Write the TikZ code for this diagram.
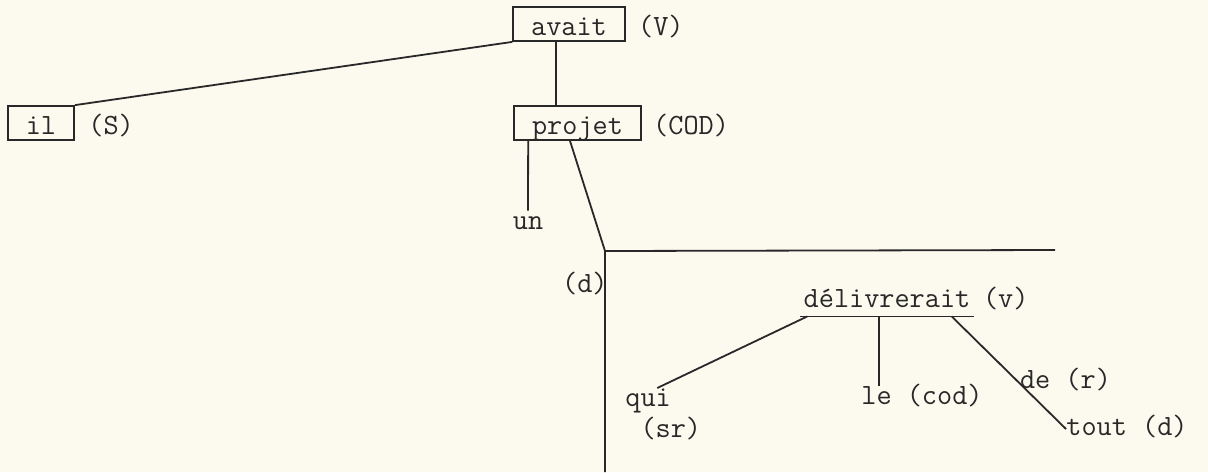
\documentclass[tikz,border=0pt]{standalone}
\usepackage{tikz}
\usetikzlibrary{calc}
\usetikzlibrary{positioning}
\definecolor{paper}{RGB}{252,250,239}
\definecolor{ink}{RGB}{40,40,40}

\begin{document}
\begin{tikzpicture}[
        x=0.5pt, y=-0.5pt,
        tt/.style={font=\ttfamily\fontsize{14.7}{15.5}\selectfont, text=ink},
        word/.style={tt, draw=ink, line width=0.9pt, inner xsep=9pt, inner ysep=2pt, text height=12pt, text depth=1pt},
        lbl/.style={tt, inner sep=0, text height=9pt, text depth=3pt},
        edge/.style={draw=ink, line width=0.9pt}
    ]
        \fill[paper] (0,0) rectangle (1208,472);
        \useasboundingbox (0,0) rectangle (1208,472);

        % 方框:名称/位置
        \node[word] (avait) at (569,24) {avait};
        \node[word] (projet) at (577.5,123) {projet};
        \node[word] (il) at (41,123) {il};
        \node[lbl, base right=6pt of avait] (V) {(V)};
        \node[lbl, base right=5.5pt of projet] (COD) {(COD)};
        \node[lbl, base right=6.5pt of il] (S) {(S)};

        % 从句
        \node[lbl] (un) at (528,223) {un};
        \coordinate (rel) at (605,251);
        \coordinate (relend) at (1055,250);
        \coordinate (relbot) at (605,472);
        \node[lbl, anchor=east] (d) at (608,286) {(d)};

        \node[lbl, inner xsep=1.5pt, text depth=2pt, inner ysep=2.5pt, anchor=base] (deliv) at (887,307) {délivrerait};
        \node[lbl, base right=4.5pt of deliv] (v) {(v)};
        \node[tt, inner sep=0, align=left, anchor=north west] (qui) at (625,388) {qui\\\mbox{\ }(sr)};
        \node[lbl, anchor=base west] (le) at (861,404) {le (cod)};
        \node[lbl, anchor=west] (tout) at (1066,429) {tout (d)};

        % 连线
        \draw[edge] (il.north east) -- (avait.south west);
        \draw[edge] ([xshift=-6.5pt]avait.south) -- ([xshift=-6.5pt]avait.south |- projet.north);
        \draw[edge] ([xshift=7.5pt]projet.south west) -- (un.north);
        \draw[edge] ([xshift=-3.75pt]projet.south) -- (rel);
        \draw[edge] (relbot) -- (rel) -- (relend);

        % délivrerait
        \draw[edge] (deliv.south west) -- (deliv.south east);
        \draw[edge] ([xshift=3.5pt]deliv.south west) -- ([xshift=-3pt]qui.north);
        \draw[edge] ([xshift=-4pt]deliv.south) -- ([xshift=-4pt]deliv.south |- le.north);
        \draw[edge] ([xshift=-11pt]deliv.south east) -- node[lbl, pos=0.59, anchor=west] (de) {de (r)} (tout.west);

    \end{tikzpicture}
\end{document}
